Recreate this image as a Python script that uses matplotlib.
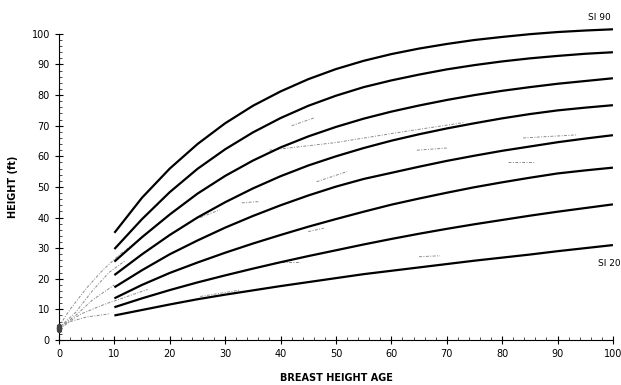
import numpy as np
import matplotlib
matplotlib.use('Agg')
import matplotlib.pyplot as plt
from matplotlib.ticker import MultipleLocator

# Site index curves (ages 10..100 by 5)
ages = [10, 15, 20, 25, 30, 35, 40, 45, 50, 55, 60, 65, 70, 75, 80, 85, 90, 95, 100]
si90 = [35.0, 46.5, 56.0, 64.0, 70.8, 76.5, 81.2, 85.2, 88.5, 91.2, 93.4, 95.2, 96.7, 98.0, 99.0, 99.9, 100.6, 101.1, 101.5]
si80 = [29.7, 39.5, 48.3, 55.9, 62.3, 67.8, 72.5, 76.5, 79.8, 82.6, 84.8, 86.7, 88.4, 89.8, 91.0, 92.0, 92.8, 93.5, 94.0]
si70 = [25.6, 33.6, 41.0, 47.8, 53.6, 58.6, 62.9, 66.5, 69.6, 72.3, 74.6, 76.6, 78.4, 80.0, 81.4, 82.6, 83.7, 84.6, 85.5]
si60 = [21.2, 28.0, 34.3, 40.0, 45.0, 49.5, 53.5, 57.0, 60.0, 62.7, 65.1, 67.2, 69.1, 70.8, 72.4, 73.8, 75.0, 75.9, 76.7]
si50 = [17.2, 22.8, 28.0, 32.5, 36.7, 40.5, 44.0, 47.2, 50.1, 52.6, 54.6, 56.6, 58.5, 60.2, 61.8, 63.2, 64.6, 65.8, 66.9]
si40 = [13.6, 18.0, 21.9, 25.3, 28.5, 31.5, 34.3, 37.0, 39.5, 41.9, 44.2, 46.2, 48.1, 49.9, 51.5, 53.0, 54.4, 55.4, 56.3]
si30 = [10.7, 13.6, 16.3, 18.8, 21.1, 23.3, 25.4, 27.4, 29.3, 31.2, 33.0, 34.7, 36.3, 37.8, 39.2, 40.6, 41.9, 43.1, 44.3]
si20 = [8.0, 9.8, 11.6, 13.3, 14.8, 16.2, 17.6, 18.9, 20.2, 21.5, 22.6, 23.7, 24.8, 25.9, 26.9, 27.9, 29.0, 30.0, 31.0]
curves = [si90, si80, si70, si60, si50, si40, si30, si20]

# faint stem-analysis traces (age, height)
tree_ages = [
    [0, 2, 5, 8, 11, 14],
    [0, 3, 6, 9, 12],
    [0, 4, 8, 12, 16],
    [0, 2, 5, 9],
    [0, 3, 6, 10],
    [38, 50, 62, 73],
    [42, 46],
    [46.5, 52],
    [83.8, 93.5],
    [64.6, 70],
    [81, 86],
    [65, 68.8],
    [25.5, 32.7],
    [33, 36],
    [25.5, 29],
    [45, 47.8],
    [39, 43.5],
]
tree_hts = [
    [4.5, 10, 17, 23, 28, 32],
    [4.0, 9, 16, 22, 26],
    [4.0, 8.5, 11.5, 14, 16.5],
    [3.5, 6, 7.5, 8.5],
    [4.0, 8, 13, 18],
    [62, 64.5, 68, 71],
    [70, 72.5],
    [51.7, 55],
    [66, 67],
    [62, 62.7],
    [58.3, 58.3],
    [27.2, 27.5],
    [14.2, 16.3],
    [44.8, 45.2],
    [40, 42.5],
    [35.4, 36.5],
    [25.6, 25.6],
]
origin_h = [3.2, 3.6, 4.0, 4.3, 4.6, 3.8]

fig = plt.figure(figsize=(6.21, 3.85), dpi=100)
ax = fig.add_axes((0.095, 0.117, 0.892, 0.795))

for xs, ys in zip(tree_ages, tree_hts):
    ax.plot(xs, ys, color='#8c8c8c', lw=0.7, ls=(0, (3, 1.5, 1, 1.5)), clip_on=False)
ax.scatter(np.zeros(len(origin_h)), origin_h, s=8, color='#444444', zorder=3, clip_on=False)

for h in curves:
    ax.plot(ages, h, color='black', lw=1.6, solid_capstyle='butt', clip_on=False)

ax.text(97.5, 104, 'SI 90', fontsize=6.5, ha='center', va='bottom')
ax.text(101.3, 26.5, 'SI 20', fontsize=6.5, ha='right', va='top')

ax.set_xlim(0, 100)
ax.set_ylim(0, 100)
ax.xaxis.set_major_locator(MultipleLocator(10))
ax.yaxis.set_major_locator(MultipleLocator(10))
ax.xaxis.set_minor_locator(MultipleLocator(2))
ax.yaxis.set_minor_locator(MultipleLocator(2))
ax.tick_params(which='major', direction='inout', length=6, width=0.8, labelsize=7)
ax.tick_params(which='minor', direction='in', length=2.5, width=0.5)
ax.spines['top'].set_visible(False)
ax.spines['right'].set_visible(False)
ax.spines['left'].set_linewidth(0.8)
ax.spines['bottom'].set_linewidth(0.8)

ax.set_xlabel('BREAST HEIGHT AGE', fontsize=7, fontweight='bold', labelpad=10)
ax.set_ylabel('HEIGHT (ft)', fontsize=7, fontweight='bold', labelpad=10)

fig.savefig('out.png', dpi=100)
